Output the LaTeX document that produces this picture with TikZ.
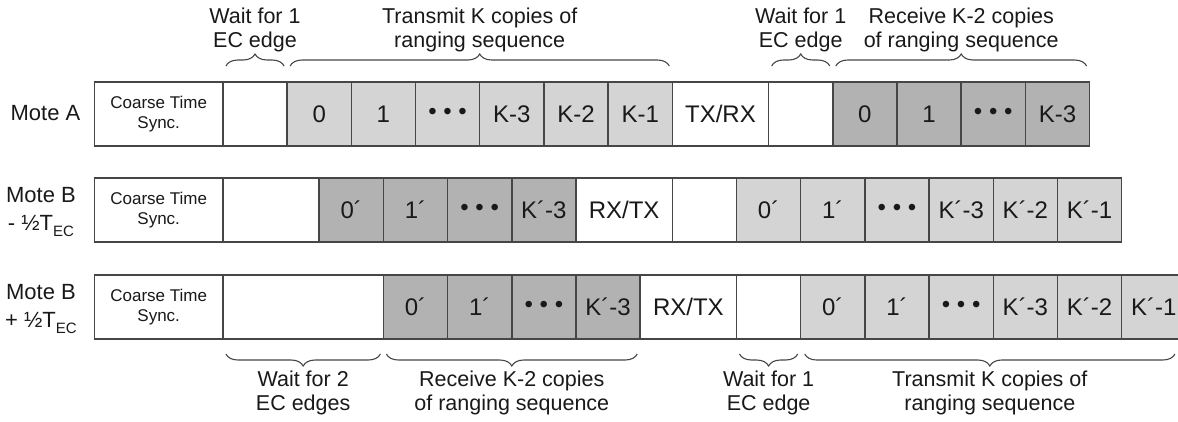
\documentclass[tikz,border=0pt]{standalone}
\usepackage{fontspec}
\setmainfont{Liberation Sans}
\usetikzlibrary{decorations.pathreplacing,calc}
\definecolor{lightcell}{RGB}{212,212,212}
\definecolor{darkcell}{RGB}{178,178,178}
\definecolor{edgecol}{RGB}{70,70,70}
\definecolor{inkcol}{RGB}{25,25,25}
\newcommand{\ecsub}{\raisebox{-0.28em}{\fontsize{15}{15}\selectfont EC}}
\newcommand{\tdots}{•\hspace{0.28em}•\hspace{0.28em}•}

\begin{document}
\begin{tikzpicture}[x=1pt,y=-1pt,
  every node/.style={text=inkcol},
  cell/.style={draw=edgecol, line width=1.5pt, minimum height=64pt,
    inner sep=0pt, outer sep=0pt, anchor=west,
    font=\fontsize{24}{28}\selectfont},
  u1/.style={minimum width=64.2pt},
  u15/.style={minimum width=96.3pt},
  u2/.style={minimum width=128.4pt},
  u25/.style={minimum width=160.5pt},
  blank/.style={cell,fill=white},
  lite/.style={cell,u1,fill=lightcell},
  dark/.style={cell,u1,fill=darkcell},
  coarse/.style={blank,u2,align=center,font=\fontsize{17}{19.5}\selectfont},
  rowlabel/.style={align=center,font=\fontsize{22}{28}\selectfont},
  brace/.style={decorate,decoration={brace,amplitude=12pt},
    draw=edgecol, line width=1.1pt},
  toplabel/.style={midway,above=13pt,inner sep=0pt,align=center,
    font=\fontsize{21.5}{24.5}\selectfont},
  botlabel/.style={midway,below=16pt,inner sep=0pt,align=center,
    font=\fontsize{21.5}{24.5}\selectfont}]

\useasboundingbox (0,0) rectangle (1178,421);

% ---- Mote A ----
\node[rowlabel] (LA) at (45.5,113) {Mote A};
\node[coarse] (A0) at (94.5,114) {Coarse Time\\Sync.};
\node[blank,u1] (A1) at (A0.east) {};
\node[lite] (A2) at (A1.east) {0};
\node[lite] (A3) at (A2.east) {1};
\node[lite] (A4) at (A3.east) {\tdots};
\node[lite] (A5) at (A4.east) {K-3};
\node[lite] (A6) at (A5.east) {K-2};
\node[lite] (A7) at (A6.east) {K-1};
\node[blank,u15] (A8) at (A7.east) {TX/RX};
\node[blank,u1] (A9) at (A8.east) {};
\node[dark] (A10) at (A9.east) {0};
\node[dark] (A11) at (A10.east) {1};
\node[dark] (A12) at (A11.east) {\tdots};
\node[dark] (A13) at (A12.east) {K-3};

% ---- Mote B, early ----
\node[rowlabel] (LB) at (41,212) {Mote B\\- ½T\ecsub};
\node[coarse] (B0) at (94.5,210) {Coarse Time\\Sync.};
\node[blank,u15] (B1) at (B0.east) {};
\node[dark] (B2) at (B1.east) {0´};
\node[dark] (B3) at (B2.east) {1´};
\node[dark] (B4) at (B3.east) {\tdots};
\node[dark] (B5) at (B4.east) {K´-3};
\node[blank,u15] (B6) at (B5.east) {RX/TX};
\node[blank,u1] (B7) at (B6.east) {};
\node[lite] (B8) at (B7.east) {0´};
\node[lite] (B9) at (B8.east) {1´};
\node[lite] (B10) at (B9.east) {\tdots};
\node[lite] (B11) at (B10.east) {K´-3};
\node[lite] (B12) at (B11.east) {K´-2};
\node[lite] (B13) at (B12.east) {K´-1};

% ---- Mote B, late ----
\node[rowlabel] (LC) at (41,309) {Mote B\\+ ½T\ecsub};
\node[coarse] (C0) at (94.5,307) {Coarse Time\\Sync.};
\node[blank,u25] (C1) at (C0.east) {};
\node[dark] (C2) at (C1.east) {0´};
\node[dark] (C3) at (C2.east) {1´};
\node[dark] (C4) at (C3.east) {\tdots};
\node[dark] (C5) at (C4.east) {K´-3};
\node[blank,u15] (C6) at (C5.east) {RX/TX};
\node[blank,u1] (C7) at (C6.east) {};
\node[lite] (C8) at (C7.east) {0´};
\node[lite] (C9) at (C8.east) {1´};
\node[lite] (C10) at (C9.east) {\tdots};
\node[lite] (C11) at (C10.east) {K´-3};
\node[lite] (C12) at (C11.east) {K´-2};
\node[lite] (C13) at (C12.east) {K´-1};

% ---- phase braces above Mote A ----
\draw[brace] ($(A1.north west)+(3,-16)$) -- node[toplabel] {Wait for 1\\EC edge}
  ($(A1.north east)+(-3,-16)$);
\draw[brace] ($(A2.north west)+(3,-16)$) -- node[toplabel] {Transmit K copies of\\ranging sequence}
  ($(A7.north east)+(-3,-16)$);
\draw[brace] ($(A9.north west)+(3,-16)$) -- node[toplabel] {Wait for 1\\EC edge}
  ($(A9.north east)+(-3,-16)$);
\draw[brace] ($(A10.north west)+(3,-16)$) -- node[toplabel] {Receive K-2 copies\\of ranging sequence}
  ($(A13.north east)+(-3,-16)$);

% ---- phase braces below Mote B (late) ----
\draw[brace] ($(C1.south east)+(-3,15)$) -- node[botlabel] {Wait for 2\\EC edges}
  ($(C1.south west)+(3,15)$);
\draw[brace] ($(C5.south east)+(-3,15)$) -- node[botlabel] {Receive K-2 copies\\of ranging sequence}
  ($(C2.south west)+(3,15)$);
\draw[brace] ($(C7.south east)+(-3,15)$) -- node[botlabel] {Wait for 1\\EC edge}
  ($(C7.south west)+(3,15)$);
\draw[brace] ($(C13.south east)+(-11,15)$) -- node[botlabel] {Transmit K copies of\\ranging sequence}
  ($(C8.south west)+(4,15)$);
\end{tikzpicture}
\end{document}
